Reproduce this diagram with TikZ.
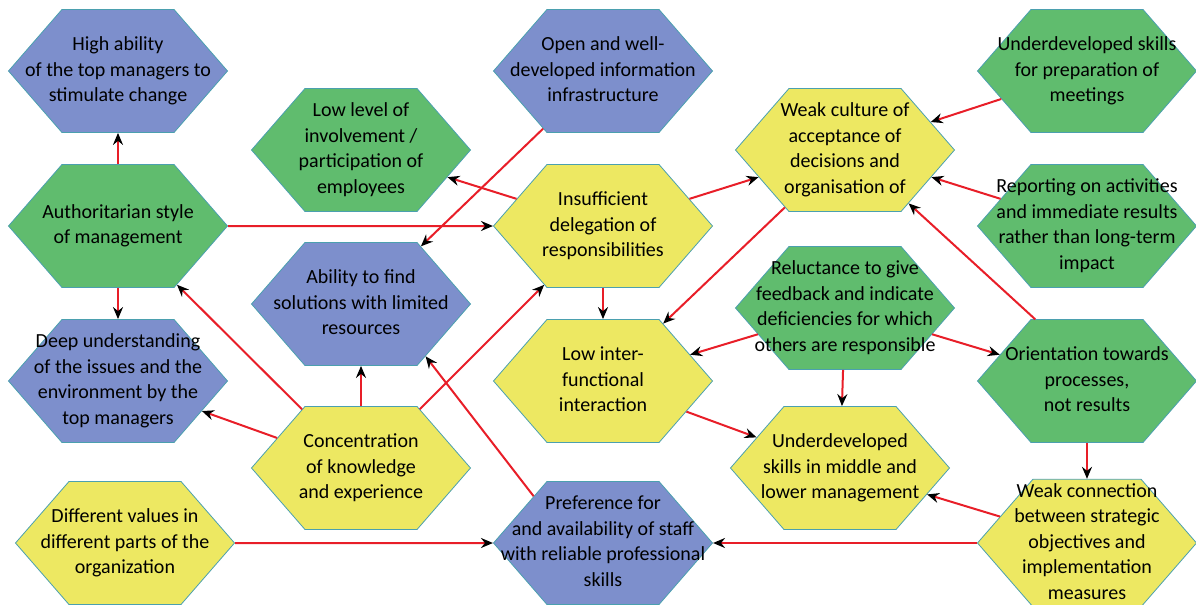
\documentclass[tikz,border=0pt]{standalone}
\usepackage{fontspec}
\setmainfont{Carlito}
\usepackage{tikz}
\usetikzlibrary{shapes.symbols, arrows.meta}

\definecolor{hexblue}{RGB}{125,143,204}
\definecolor{hexgreen}{RGB}{96,188,110}
\definecolor{hexyellow}{RGB}{237,232,98}
\definecolor{hexline}{RGB}{75,160,175}
\definecolor{linkred}{RGB}{232,30,40}

\newcommand{\hexlines}[1]{\makebox[0pt]{\begin{tabular}{@{}c@{}}#1\end{tabular}}}

\begin{document}
\begin{tikzpicture}
        [
            x=0.5pt, y=-0.5pt,
            hexnode/.style={signal, signal to=east and west, signal pointer angle=98,
                draw=hexline, line width=0.4pt, inner sep=0pt,
                minimum width=109.5pt, minimum height=61.5pt,
                font=\fontsize{10}{12.75}\selectfont},
            bluehex/.style={hexnode, fill=hexblue},
            greenhex/.style={hexnode, fill=hexgreen},
            yellowhex/.style={hexnode, fill=hexyellow},
            link/.style={draw=linkred, line width=1pt,
                -{Stealth[color=black, length=6pt, width=5pt, inset=2pt]}},
        ]
        \useasboundingbox (0,0) rectangle (1196,605);

        \node[bluehex] (high) at (118,71) {\hexlines{High ability\\of the top managers to\\stimulate change}};
        \node[greenhex] (auth) at (118,226) {\hexlines{Authoritarian style\\of management}};
        \node[bluehex] (deep) at (118,381) {\hexlines{Deep understanding\\of the issues and the\\environment by the\\top managers}};
        \node[yellowhex] (values) at (125,543) {\hexlines{Different values in\\different parts of the\\organization}};

        \node[greenhex] (involve) at (361,150) {\hexlines{Low level of\\involvement /\\participation of\\employees}};
        \node[bluehex] (ability) at (361,304) {\hexlines{Ability to find\\solutions with limited\\resources}};
        \node[yellowhex] (concent) at (361,468) {\hexlines{Concentration\\of knowledge\\and experience}};

        \node[bluehex] (infra) at (603,71) {\hexlines{Open and well-\\developed information\\infrastructure}};
        \node[yellowhex] (deleg) at (603,226) {\hexlines{Insufficient\\delegation of\\responsibilities}};
        \node[yellowhex] (inter) at (603,381) {\hexlines{Low inter-\\functional\\interaction}};
        \node[bluehex] (staff) at (603,543) {\hexlines{Preference for\\and availability of staff\\with reliable professional\\skills}};

        \node[yellowhex] (culture) at (845,150) {\hexlines{Weak culture of\\acceptance of\\decisions and\\organisation of}};
        \node[greenhex] (feedback) at (845,308) {\hexlines{Reluctance to give\\feedback and indicate\\deficiencies for which\\others are responsible}};
        \node[yellowhex] (middle) at (840,468) {\hexlines{Underdeveloped\\skills in middle and\\lower management}};

        \node[greenhex] (meetings) at (1087,71) {\hexlines{Underdeveloped skills\\for preparation of\\meetings}};
        \node[greenhex] (report) at (1087,226) {\hexlines{Reporting on activities\\and immediate results\\rather than long-term\\impact}};
        \node[greenhex] (process) at (1087,381) {\hexlines{Orientation towards\\processes,\\not results}};
        \node[yellowhex] (strategy) at (1087,543) {\hexlines{Weak connection\\between strategic\\objectives and\\implementation\\measures}};

        \draw[link] (auth) -- (high);
        \draw[link] (auth) -- (deep);
        \draw[link] (auth) -- (deleg);
        \draw[link] (concent) -- (auth);
        \draw[link] (concent) -- (deep);
        \draw[link] (concent) -- (ability);
        \draw[link] (concent) -- (deleg);
        \draw[link] (infra) -- (ability);
        \draw[link] (deleg) -- (involve);
        \draw[link] (deleg) -- (culture);
        \draw[link] (deleg) -- (inter);
        \draw[link] (culture) -- (inter);
        \draw[link] (meetings) -- (culture);
        \draw[link] (report) -- (culture);
        \draw[link] (process.130) -- (culture.-40);
        \draw[link] (feedback) -- (inter);
        \draw[link] (feedback) -- (process);
        \draw[link] (feedback) -- (middle);
        \draw[link] (inter) -- (middle);
        \draw[link] (process) -- (strategy);
        \draw[link] (strategy) -- (middle);
        \draw[link] (strategy) -- (staff);
        \draw[link] (values) -- (staff);
        \draw[link] (staff.146) -- (ability.-39);
\end{tikzpicture}
\end{document}
